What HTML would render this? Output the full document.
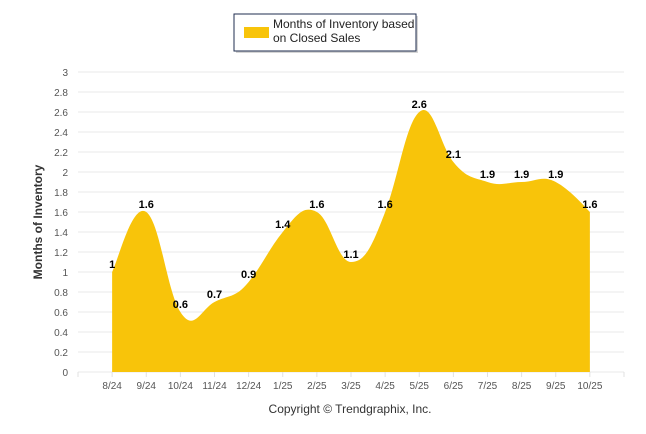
<!DOCTYPE html>
<html><head><meta charset="utf-8"><style>
body{margin:0;background:#fff;font-family:"Liberation Sans",Arial,sans-serif}
svg{display:block}
</style></head><body>
<svg id="chart" width="646" height="434">
<g>
<rect x="236" y="16" width="182" height="37" fill="#888" opacity="0.35"/>
<rect x="234" y="14" width="182" height="37" fill="#fff" stroke="#1f2d4f" stroke-width="1"/>
<rect x="244" y="27" width="25" height="11" fill="#f8c40a"/>
<text x="273" y="28" font-size="12" fill="#222">Months of Inventory based</text>
<text x="273" y="42" font-size="12" fill="#222">on Closed Sales</text>
</g>
<g id="grid"></g>
<g id="area"></g>
<g id="labels"></g>
<text transform="translate(42,222) rotate(-90)" text-anchor="middle" font-size="12" font-weight="bold" fill="#333">Months of Inventory</text>
<text x="350" y="413" text-anchor="middle" font-size="12" fill="#333">Copyright © Trendgraphix, Inc.</text>
</svg>
<script>
const categories=["8/24","9/24","10/24","11/24","12/24","1/25","2/25","3/25","4/25","5/25","6/25","7/25","8/25","9/25","10/25"];
const values=[1,1.6,0.6,0.7,0.9,1.4,1.6,1.1,1.6,2.6,2.1,1.9,1.9,1.9,1.6];
const yTicks=[0,0.2,0.4,0.6,0.8,1,1.2,1.4,1.6,1.8,2,2.2,2.4,2.6,2.8,3];
const NS="http://www.w3.org/2000/svg";
const L=78,R=624,Y0=372,Y3=72,step=(R-L)/16;
const xs=i=>L+step*(i+1);
const ys=v=>Y0-(v/3)*(Y0-Y3);
function mk(t,a,p){const e=document.createElementNS(NS,t);for(const k in a)e.setAttribute(k,a[k]);p.appendChild(e);return e;}
const grid=document.getElementById('grid');
yTicks.forEach(v=>{
 const l=mk('line',{x1:L,x2:R,y1:ys(v),y2:ys(v),stroke:'#e8e8e8'},grid);
 
 
 const t=mk('text',{x:L-10,y:ys(v)+4,'text-anchor':'end','font-size':'10',fill:'#555'},grid);
 t.textContent=String(v);
 
 
});
for(let i=0;i<=16;i++){mk('line',{x1:L+step*i,x2:L+step*i,y1:Y0,y2:Y0+5,stroke:'#e0e0e0'},grid);}
categories.forEach((c,i)=>{
 const t=mk('text',{x:xs(i),y:Y0+17,'text-anchor':'middle','font-size':'10',fill:'#555'},grid);
 t.textContent=c;
 
 
});
const P=values.map((v,i)=>[xs(i),ys(v)]);
let d=`M${P[0][0]},${Y0} L${P[0][0]},${P[0][1]}`;
const k=0.24;
for(let i=0;i<P.length-1;i++){
 const p0=P[i-1]||P[i],p1=P[i],p2=P[i+1],p3=P[i+2]||P[i+1];
 const c1=[p1[0]+(p2[0]-p0[0])*k/1.2,p1[1]+(p2[1]-p0[1])*k];
 const c2=[p2[0]-(p3[0]-p1[0])*k/1.2,p2[1]-(p3[1]-p1[1])*k];
 d+=` C${c1[0]},${c1[1]} ${c2[0]},${c2[1]} ${p2[0]},${p2[1]}`;
}
d+=` L${P[P.length-1][0]},${Y0} Z`;
const area=mk('path',{d:d,fill:'#f8c40a'},document.getElementById('area'));


const lab=document.getElementById('labels');
values.forEach((v,i)=>{
 const t=mk('text',{x:xs(i),y:ys(v)-4,'text-anchor':'middle','font-size':'11','font-weight':'bold',fill:'#000'},lab);
 t.textContent=String(v);
 
 
});
</script>
</body></html>
